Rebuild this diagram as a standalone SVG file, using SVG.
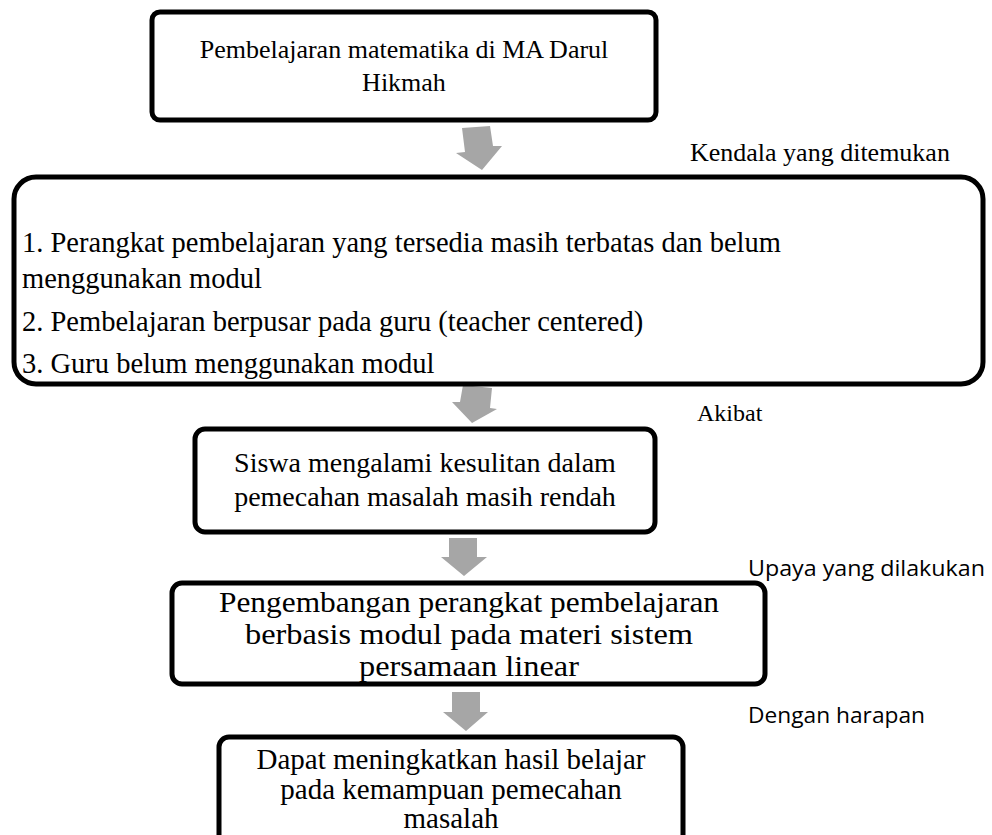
<svg xmlns="http://www.w3.org/2000/svg" width="992" height="835" viewBox="0 0 992 835">
<style>
.box{fill:#fff;stroke:#000;stroke-width:5}
.t{font-family:"Liberation Serif","Times New Roman",serif;fill:#000}
.c{text-anchor:middle}
.s{font-family:"Open Sans","Liberation Sans",sans-serif;fill:#000}
.arr{fill:#A6A6A6}
</style>
<rect width="992" height="835" fill="#fff"/>
<g id="connectors">
<polygon class="arr" points="462,128 490,126 493,146 502,146 482,170 456,153 465,152"/>
<polygon class="arr" points="463,385 492,388 490,408 497,409 472,423 452,402 460,402"/>
<polygon class="arr" points="449,538 477,538 477,557 487,557 464,576 441,557 449,557"/>
<polygon class="arr" points="452,692 480,692 480,712 488,712 466,731 443,712 452,712"/>
<text class="t" x="690" y="161" font-size="26">Kendala yang ditemukan</text>
<text class="t" x="697" y="421" font-size="24">Akibat</text>
<text class="s" x="748" y="576" font-size="21" textLength="237" lengthAdjust="spacingAndGlyphs">Upaya yang dilakukan</text>
<text class="s" x="748" y="723" font-size="21" textLength="177" lengthAdjust="spacingAndGlyphs">Dengan harapan</text>
</g>
<g id="n1">
<rect class="box" x="152" y="12" width="504" height="108" rx="8"/>
<text class="t c" x="404" y="58" font-size="26">Pembelajaran matematika di MA Darul</text>
<text class="t c" x="404" y="91" font-size="26">Hikmah</text>
</g>
<g id="n2">
<rect class="box" x="14" y="177" width="969" height="207" rx="22"/>
<text class="t" x="22" y="252" font-size="28.5">1. Perangkat pembelajaran yang tersedia masih terbatas dan belum</text>
<text class="t" x="22" y="288" font-size="28.5">menggunakan modul</text>
<text class="t" x="22" y="331" font-size="28.5">2. Pembelajaran berpusar pada guru (teacher centered)</text>
<text class="t" x="22" y="373" font-size="28.5">3. Guru belum menggunakan modul</text>
</g>
<g id="n3">
<rect class="box" x="195" y="429" width="460" height="103" rx="10"/>
<text class="t c" x="425" y="472" font-size="28">Siswa mengalami kesulitan dalam</text>
<text class="t c" x="425" y="506" font-size="28">pemecahan masalah masih rendah</text>
</g>
<g id="n4">
<rect class="box" x="172" y="583" width="593" height="101" rx="10"/>
<text class="t c" x="469" y="612" font-size="29" textLength="500" lengthAdjust="spacingAndGlyphs">Pengembangan perangkat pembelajaran</text>
<text class="t c" x="469" y="644" font-size="29" textLength="448" lengthAdjust="spacingAndGlyphs">berbasis modul pada materi sistem</text>
<text class="t c" x="469" y="676" font-size="29" textLength="220" lengthAdjust="spacingAndGlyphs">persamaan linear</text>
</g>
<g id="n5">
<rect class="box" x="219" y="737" width="464" height="120" rx="10"/>
<text class="t c" x="451" y="769" font-size="29">Dapat meningkatkan hasil belajar</text>
<text class="t c" x="451" y="799" font-size="29">pada kemampuan pemecahan</text>
<text class="t c" x="451" y="828" font-size="29">masalah</text>
</g>
</svg>
